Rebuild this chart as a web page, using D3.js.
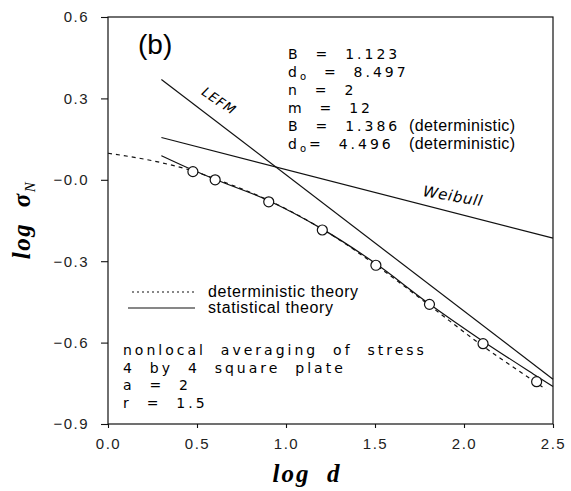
<!DOCTYPE html>
<html>
<head>
<meta charset="utf-8">
<script src="https://cdn.jsdelivr.net/npm/d3@7"></script>
<style>
  body { margin: 0; background: #fff; }
  svg { display: block; }
  .tick text { font-family: "Liberation Sans", sans-serif; font-size: 15px; letter-spacing: 1.5px; fill: #222; }
  .tick line { stroke: #111; stroke-width: 1.1; }
</style>
</head>
<body>
<svg id="chart" width="571" height="491"></svg>
<script>
// measured points (log d, log sigma_N)
const pointX = [0.477, 0.602, 0.903, 1.204, 1.505, 1.806, 2.107, 2.408];
const pointY = [0.030, 0.000, -0.081, -0.185, -0.315, -0.459, -0.604, -0.744];

// statistical theory (solid)
const statX = [0.3, 0.48, 0.6, 0.9, 1.2, 1.5, 1.8, 2.1, 2.4, 2.5];
const statY = [0.089, 0.035, 0.002, -0.076, -0.180, -0.307, -0.455, -0.592, -0.720, -0.762];

// deterministic theory (dashed)
const detX = [0.0, 0.3, 0.48, 0.6, 0.9, 1.2, 1.5, 1.8, 2.1, 2.4, 2.46];
const detY = [0.098, 0.063, 0.032, 0.004, -0.075, -0.180, -0.312, -0.460, -0.610, -0.745, -0.772];

// asymptotes
const lefmX = [0.3, 2.5];
const lefmY = [0.37, -0.735];
const weibullX = [0.3, 2.5];
const weibullY = [0.156, -0.215];

const xTicks = [0.0, 0.5, 1.0, 1.5, 2.0, 2.5];
const yTicks = [0.6, 0.3, 0.0, -0.3, -0.6, -0.9];

const paramLines = [
    ["B", "", "  =  1.123", ""],
    ["d", "o", "  =  8.497", ""],
    ["n", "", "  =  2", ""],
    ["m", "", "  =  12", ""],
    ["B", "", "  =  1.386", "(deterministic)"],
    ["d", "o", "=  4.496", "(deterministic)"]
];
const noteLines = ["nonlocal  averaging  of  stress", "4  by  4  square  plate", "a  =  2", "r  =  1.5"];
const legendLabels = ["deterministic theory", "statistical theory"];

const svg = d3.select("#chart");

const x = d3.scaleLinear().domain([0, 2.5]).range([108, 553]);
const y = d3.scaleLinear().domain([-0.9, 0.6]).range([424, 17]);

// frame
svg.append("rect")
    .attr("x", x(0)).attr("y", y(0.6))
    .attr("width", x(2.5) - x(0)).attr("height", y(-0.9) - y(0.6))
    .attr("fill", "none").attr("stroke", "#111").attr("stroke-width", 1.2);

const fmt = d3.format(".1f");

svg.append("g")
    .attr("transform", "translate(" + x(0) + ",0)")
    .call(d3.axisLeft(y).tickValues(yTicks).tickSize(7).tickPadding(12)
        .tickFormat(function (v) { return v === 0 ? "\u22120.0" : fmt(v); }))
    .call(function (g) { g.select(".domain").remove(); });

svg.append("g")
    .attr("transform", "translate(0," + y(-0.9) + ")")
    .call(d3.axisBottom(x).tickValues(xTicks).tickSize(4).tickPadding(10).tickFormat(fmt))
    .call(function (g) { g.select(".domain").remove(); });

// lines
function pairs(xs, ys) {
    return xs.map(function (v, i) { return [v, ys[i]]; });
}
const line = d3.line()
    .x(function (d) { return x(d[0]); })
    .y(function (d) { return y(d[1]); })
    .curve(d3.curveMonotoneX);

svg.append("path").datum(pairs(lefmX, lefmY)).attr("d", line)
    .attr("fill", "none").attr("stroke", "#111").attr("stroke-width", 1.2);
svg.append("path").datum(pairs(weibullX, weibullY)).attr("d", line)
    .attr("fill", "none").attr("stroke", "#111").attr("stroke-width", 1.2);
svg.append("path").datum(pairs(detX, detY)).attr("d", line)
    .attr("fill", "none").attr("stroke", "#111").attr("stroke-width", 1.2)
    .attr("stroke-dasharray", "4,4");
svg.append("path").datum(pairs(statX, statY)).attr("d", line)
    .attr("fill", "none").attr("stroke", "#111").attr("stroke-width", 1.2);

svg.selectAll("circle.pt")
    .data(pairs(pointX, pointY))
    .enter().append("circle")
    .attr("class", "pt")
    .attr("cx", function (d) { return x(d[0]); })
    .attr("cy", function (d) { return y(d[1]); })
    .attr("r", 5)
    .attr("fill", "#fff").attr("stroke", "#111").attr("stroke-width", 1.2);

// (b)
svg.append("text")
    .attr("x", 138).attr("y", 54)
    .attr("font-family", "Liberation Sans, sans-serif").attr("font-size", 28)
    .text("(b)");

// parameter block
const geo = "DejaVu Sans, sans-serif";
paramLines.forEach(function (p, i) {
    const t = svg.append("text")
        .attr("x", 288).attr("y", 59 + i * 18)
        .attr("font-family", geo).attr("font-size", 14)
        .attr("letter-spacing", 3)
        .style("white-space", "pre");
    t.append("tspan").text(p[0]);
    if (p[1]) {
        t.append("tspan").attr("font-size", 10).attr("dy", 3).text(p[1]);
        t.append("tspan").attr("dy", -3).text(p[2]);
    } else {
        t.append("tspan").text(p[2]);
    }
    if (p[3]) {
        svg.append("text")
            .attr("x", 409).attr("y", 59 + i * 18)
            .attr("font-family", "Liberation Sans, sans-serif").attr("font-size", 16)
            .attr("letter-spacing", 0.4)
            .text(p[3]);
    }
});

// curve labels
svg.append("text")
    .attr("transform", "translate(219,101) rotate(34)")
    .attr("text-anchor", "middle").attr("dy", "0.35em")
    .attr("font-family", geo).attr("font-size", 13).attr("font-style", "italic")
    .attr("letter-spacing", 1)
    .text("LEFM");
svg.append("text")
    .attr("transform", "translate(453,196) rotate(10)")
    .attr("text-anchor", "middle").attr("dy", "0.35em")
    .attr("font-family", geo).attr("font-size", 15).attr("font-style", "italic")
    .attr("letter-spacing", 0.7)
    .text("Weibull");

// legend
const legend = svg.append("g");
legendLabels.forEach(function (lab, i) {
    const ly = 292 + i * 16;
    legend.append("line")
        .attr("x1", i === 0 ? 132 : 128).attr("x2", 195)
        .attr("y1", ly).attr("y2", ly)
        .attr("stroke", "#111").attr("stroke-width", 1.1)
        .attr("stroke-dasharray", i === 0 ? "2,3" : null);
    legend.append("text")
        .attr("x", 208).attr("y", ly + 5)
        .attr("font-family", "Liberation Sans, sans-serif").attr("font-size", 16)
        .attr("letter-spacing", 0.6)
        .text(lab);
});

// notes
noteLines.forEach(function (s, i) {
    svg.append("text")
        .attr("x", 123).attr("y", 355 + i * 17.7)
        .attr("font-family", geo).attr("font-size", 14)
        .attr("letter-spacing", 3)
        .style("white-space", "pre")
        .text(s);
});

// axis titles
svg.append("text")
    .attr("x", 307).attr("y", 482)
    .attr("text-anchor", "middle")
    .attr("font-family", "Liberation Serif, serif").attr("font-size", 25)
    .attr("font-style", "italic").attr("font-weight", "bold")
    .attr("letter-spacing", 2)
    .style("white-space", "pre")
    .text("log  d");

const yl = svg.append("text")
    .attr("transform", "translate(30,220) rotate(-90)")
    .attr("text-anchor", "middle")
    .attr("font-family", "Liberation Serif, serif").attr("font-size", 25)
    .attr("font-style", "italic").attr("font-weight", "bold")
    .attr("letter-spacing", 1.5)
    .style("white-space", "pre");
yl.append("tspan").text("log  \u03c3");
yl.append("tspan").attr("font-size", 15).attr("dy", 5).attr("font-weight", "normal").text("N");
</script>
</body>
</html>
